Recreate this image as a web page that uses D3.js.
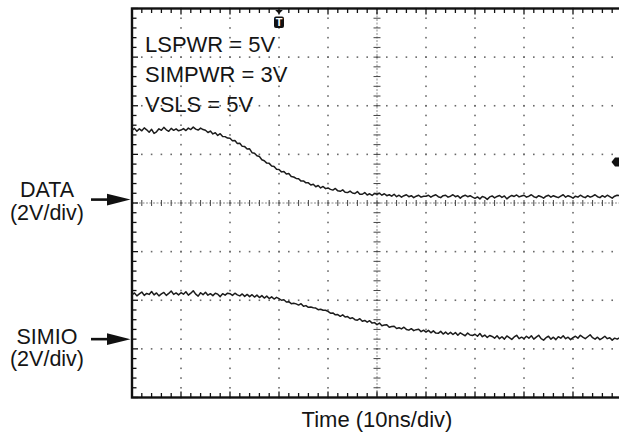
<!DOCTYPE html>
<html>
<head>
<meta charset="utf-8">
<script src="https://cdn.jsdelivr.net/npm/d3@7"></script>
<style>
  html, body { margin: 0; padding: 0; background: #fff; }
  svg { display: block; }
  text { font-family: "Liberation Sans", Arial, sans-serif; fill: #151515; }
</style>
</head>
<body>
<svg id="chart" width="619" height="439"></svg>
<script>
// ---- data -------------------------------------------------------------
// Captured samples, one every 0.5 ns across the 100 ns record (volts).
const sampleStepNs = 0.5;

const dataVolts = [
  2.85, 2.93, 2.81, 2.91, 2.83, 2.95, 2.87, 2.77, 2.89, 2.72, 2.79, 2.91, 2.85, 2.97, 2.87, 2.81, 2.93, 2.85, 2.91, 2.83,
  2.86, 2.92, 2.84, 2.94, 2.88, 2.98, 2.90, 2.86, 2.94, 2.88, 2.85, 2.76, 2.82, 2.70, 2.75, 2.64, 2.71, 2.60, 2.59, 2.53,
  2.52, 2.42, 2.43, 2.31, 2.32, 2.19, 2.18, 2.08, 2.09, 1.93, 1.91, 1.80, 1.77, 1.64, 1.60, 1.50, 1.49, 1.38, 1.36, 1.25,
  1.24, 1.14, 1.16, 1.05, 1.07, 0.95, 0.93, 0.87, 0.86, 0.76, 0.77, 0.69, 0.69, 0.60, 0.63, 0.53, 0.58, 0.48, 0.54, 0.45,
  0.48, 0.42, 0.39, 0.46, 0.36, 0.34, 0.40, 0.30, 0.29, 0.35, 0.27, 0.25, 0.33, 0.22, 0.22, 0.29, 0.19, 0.24, 0.17, 0.25,
  0.22, 0.26, 0.18, 0.24, 0.16, 0.20, 0.14, 0.22, 0.12, 0.18, 0.10, 0.16, 0.20, 0.12, 0.16, 0.08, 0.14, 0.18, 0.10, 0.14,
  0.14, 0.18, 0.10, 0.16, 0.20, 0.12, 0.08, 0.16, 0.18, 0.10, 0.14, 0.20, 0.12, 0.16, 0.06, 0.14, 0.18, 0.12, 0.16, 0.10,
  0.05, 0.11, 0.03, 0.13, 0.09, 0.01, 0.11, 0.15, 0.07, 0.13, 0.17, 0.09, 0.15, 0.03, 0.11, 0.17, 0.13, 0.19, 0.11, 0.15,
  0.18, 0.10, 0.14, 0.20, 0.12, 0.08, 0.16, 0.12, 0.06, 0.14, 0.18, 0.10, 0.16, 0.12, 0.08, 0.14, 0.20, 0.10, 0.16, 0.12,
  0.06, 0.14, 0.10, 0.18, 0.12, 0.08, 0.16, 0.10, 0.14, 0.20, 0.12, 0.08, 0.16, 0.10, 0.18, 0.12, 0.06, 0.14, 0.18, 0.16
];

const simioVolts = [
  1.82, 1.90, 1.78, 1.86, 1.94, 1.80, 1.88, 1.84, 1.96, 1.82, 1.90, 1.78, 1.86, 1.92, 1.80, 1.88, 1.98, 1.84, 1.90, 1.82,
  1.91, 1.85, 1.95, 1.81, 1.89, 1.99, 1.85, 1.77, 1.91, 1.83, 1.93, 1.81, 1.87, 1.79, 1.89, 1.85, 1.75, 1.87, 1.81, 1.89,
  1.87, 1.80, 1.89, 1.82, 1.78, 1.86, 1.76, 1.84, 1.75, 1.83, 1.73, 1.81, 1.71, 1.79, 1.69, 1.77, 1.67, 1.74, 1.65, 1.72,
  1.67, 1.60, 1.62, 1.53, 1.54, 1.46, 1.48, 1.45, 1.40, 1.46, 1.35, 1.38, 1.31, 1.32, 1.29, 1.28, 1.21, 1.23, 1.19, 1.19,
  1.14, 1.07, 1.08, 1.00, 1.01, 0.94, 1.00, 0.91, 0.93, 0.85, 0.88, 0.80, 0.78, 0.84, 0.74, 0.77, 0.70, 0.76, 0.66, 0.68,
  0.60, 0.66, 0.55, 0.58, 0.59, 0.49, 0.52, 0.53, 0.44, 0.47, 0.42, 0.49, 0.40, 0.37, 0.43, 0.35, 0.39, 0.41, 0.31, 0.37,
  0.29, 0.36, 0.26, 0.34, 0.25, 0.24, 0.32, 0.21, 0.29, 0.20, 0.28, 0.19, 0.27, 0.16, 0.26, 0.20, 0.14, 0.25, 0.17, 0.15,
  0.20, 0.12, 0.23, 0.10, 0.17, 0.07, 0.15, 0.11, 0.04, 0.14, 0.02, 0.10, 0.00, 0.13, 0.06, -0.01, 0.09, 0.16, 0.02, 0.08,
  0.02, 0.12, 0.04, 0.14, 0.00, 0.08, 0.16, 0.02, -0.04, 0.06, 0.12, 0.00, 0.08, -0.02, 0.10, 0.04, 0.14, 0.02, 0.08, -0.02,
  0.06, 0.12, 0.04, 0.16, 0.08, 0.02, 0.10, 0.18, 0.06, 0.00, 0.08, -0.02, 0.04, 0.12, 0.02, 0.06, -0.04, 0.04, 0.00, 0.06
];

const channelNames = ["DATA", "SIMIO"];
const channelScales = ["(2V/div)", "(2V/div)"];
const voltsPerDiv = [2, 2];
const groundOffsetDiv = [0.07, -2.8];   // channel ground position on the screen, in divisions
const settingsText = ["LSPWR = 5V", "SIMPWR = 3V", "VSLS = 5V"];
const timeAxisLabel = "Time (10ns/div)";
const recordNs = 100;          // 10 divisions x 10 ns
const triggerTimeNs = 30;
const triggerLevelV = 1.55;    // on DATA

// ---- layout -----------------------------------------------------------
const W = 619, H = 439;
const plot = { left: 132, right: 622, top: 8.5, bottom: 397.5 };
const svg = d3.select("#chart");

const x = d3.scaleLinear().domain([0, recordNs]).range([plot.left, plot.right]);
const div = d3.scaleLinear().domain([-4, 4]).range([plot.bottom, plot.top]);
const chY = (ch, v) => div(groundOffsetDiv[ch] + v / voltsPerDiv[ch]);

const xMajor = x.ticks(10);                       // 0,10,...,100 ns
const xMinor = d3.range(0, recordNs + 0.001, 2);  // 0.2 div
const yMajor = div.ticks(8);                      // -4..4 div
const yMinor = d3.range(-4, 4.001, 0.2).map(d => +d.toFixed(2));

// ---- graticule --------------------------------------------------------
const grid = svg.append("g");

// dotted major lines (dots at every 0.2 division)
const innerX = xMajor.filter(t => t > 0 && t < recordNs && t !== recordNs / 2);
const innerY = yMajor.filter(d => d > -4 && d < 4 && d !== 0);
const dots = [];
innerX.forEach(t => yMinor.forEach(d => dots.push([x(t), div(d)])));
innerY.forEach(d => xMinor.forEach(t => dots.push([x(t), div(d)])));
grid.selectAll("rect.dot").data(dots).join("rect")
  .attr("class", "dot")
  .attr("x", d => d[0] - 0.8).attr("y", d => d[1] - 0.8)
  .attr("width", 1.6).attr("height", 1.6)
  .attr("fill", "#6a6a6a");

// centre cross with minor ticks
const cx = x(recordNs / 2), cy = div(0);
grid.append("line")
  .attr("x1", plot.left).attr("x2", plot.right).attr("y1", cy).attr("y2", cy)
  .attr("stroke", "#8a8a8a").attr("stroke-width", 1).attr("stroke-dasharray", "2,1.5");
grid.append("line")
  .attr("x1", cx).attr("x2", cx).attr("y1", plot.top).attr("y2", plot.bottom)
  .attr("stroke", "#8a8a8a").attr("stroke-width", 1).attr("stroke-dasharray", "2,1.5");
grid.selectAll("line.hct").data(xMinor).join("line")
  .attr("class", "hct")
  .attr("x1", d => x(d)).attr("x2", d => x(d))
  .attr("y1", cy - 3).attr("y2", cy + 3)
  .attr("stroke", "#444").attr("stroke-width", 1);
grid.selectAll("line.vct").data(yMinor).join("line")
  .attr("class", "vct")
  .attr("x1", cx - 3.5).attr("x2", cx + 3.5)
  .attr("y1", d => div(d)).attr("y2", d => div(d))
  .attr("stroke", "#444").attr("stroke-width", 1);

// frame with inward ticks
const frame = svg.append("g");
frame.append("rect")
  .attr("x", plot.left).attr("y", plot.top)
  .attr("width", plot.right - plot.left).attr("height", plot.bottom - plot.top)
  .attr("fill", "none").attr("stroke", "#111").attr("stroke-width", 2.4);
const isMajorX = t => Math.abs(t % 10) < 1e-6;
const isMajorY = d => Math.abs(d - Math.round(d)) < 1e-6;
frame.selectAll("line.tt").data(xMinor).join("line")
  .attr("class", "tt")
  .attr("x1", d => x(d)).attr("x2", d => x(d))
  .attr("y1", plot.top).attr("y2", d => plot.top + (isMajorX(d) ? 6 : 4.5))
  .attr("stroke", "#111").attr("stroke-width", 1.3);
frame.selectAll("line.bt").data(xMinor).join("line")
  .attr("class", "bt")
  .attr("x1", d => x(d)).attr("x2", d => x(d))
  .attr("y1", plot.bottom).attr("y2", d => plot.bottom - (isMajorX(d) ? 6 : 4.5))
  .attr("stroke", "#111").attr("stroke-width", 1.3);
frame.selectAll("line.lt").data(yMinor).join("line")
  .attr("class", "lt")
  .attr("x1", plot.left).attr("x2", d => plot.left + (isMajorY(d) ? 6 : 4.5))
  .attr("y1", d => div(d)).attr("y2", d => div(d))
  .attr("stroke", "#111").attr("stroke-width", 1.3);

// ---- traces -----------------------------------------------------------
const traces = [dataVolts, simioVolts];
traces.forEach((vals, ch) => {
  const line = d3.line()
    .x((v, i) => x(i * sampleStepNs))
    .y(v => chY(ch, v));
  svg.append("path")
    .datum(vals)
    .attr("d", line)
    .attr("fill", "none")
    .attr("stroke", "#1c1c1c")
    .attr("stroke-width", 1.5)
    .attr("stroke-linejoin", "round");
});

// ---- markers ----------------------------------------------------------
// trigger position
const tx = x(triggerTimeNs);
svg.append("path")
  .attr("d", `M${tx - 3.8},${plot.top + 1.5} L${tx + 3.8},${plot.top + 1.5} L${tx},${plot.top + 5.5} Z`)
  .attr("fill", "#111");
svg.append("rect")
  .attr("x", tx - 5).attr("y", 16.5).attr("width", 10).attr("height", 11.5).attr("rx", 2)
  .attr("fill", "#111");
svg.append("text")
  .attr("x", tx).attr("y", 26)
  .attr("text-anchor", "middle")
  .attr("font-size", 11).attr("font-weight", "bold")
  .style("fill", "#fff")
  .text("T");

// trigger level
const ly = chY(0, triggerLevelV);
svg.append("path")
  .attr("d", `M${W - 7.5},${ly} L${W - 4},${ly - 4.5} L${W},${ly - 4.5} L${W},${ly + 4.5} L${W - 4},${ly + 4.5} Z`)
  .attr("fill", "#111");

// ---- channel labels with ground arrows ----------------------------------
const labelDy = [[-2.3, 20.4], [5, 26.8]];
channelNames.forEach((name, ch) => {
  const gy = chY(ch, 0);
  const g = svg.append("g");
  g.append("line")
    .attr("x1", 91).attr("x2", 110).attr("y1", gy).attr("y2", gy)
    .attr("stroke", "#111").attr("stroke-width", 2.6);
  g.append("path")
    .attr("d", `M${plot.left - 1.5},${gy} L${107},${gy - 5.8} L${107},${gy + 5.8} Z`)
    .attr("fill", "#111");
  g.append("text")
    .attr("x", 47).attr("y", gy + labelDy[ch][0])
    .attr("text-anchor", "middle").attr("font-size", 21.5)
    .text(name);
  g.append("text")
    .attr("x", 47).attr("y", gy + labelDy[ch][1])
    .attr("text-anchor", "middle").attr("font-size", 21.5)
    .text(channelScales[ch]);
});

// ---- settings block & time label ---------------------------------------
svg.selectAll("text.set").data(settingsText).join("text")
  .attr("class", "set")
  .attr("x", 145).attr("y", (d, i) => 52 + i * 30)
  .attr("font-size", 22)
  .text(d => d);

svg.append("text")
  .attr("x", cx).attr("y", 427)
  .attr("text-anchor", "middle").attr("font-size", 22)
  .text(timeAxisLabel);
</script>
</body>
</html>
